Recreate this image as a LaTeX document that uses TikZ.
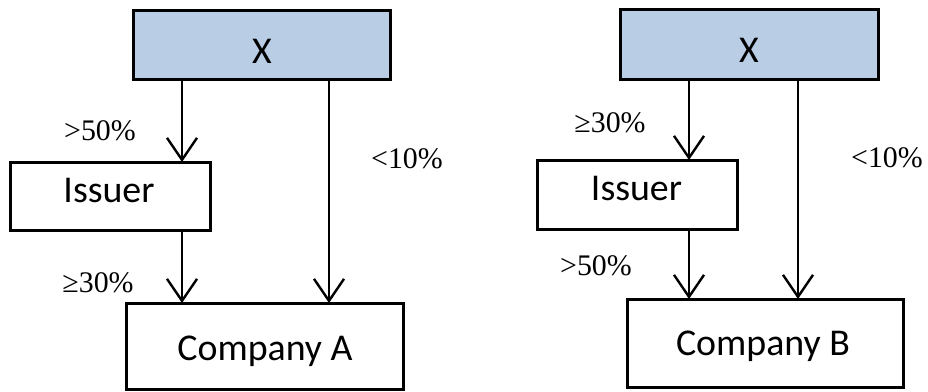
\documentclass[tikz,border=0pt]{standalone}
\usepackage{fontspec}
\setmainfont{Liberation Serif}
\newfontfamily\boxfont{Carlito}
\usetikzlibrary{arrows.meta}
\definecolor{ownerblue}{RGB}{185,205,229}
\tikzset{
  entity/.style={draw=black, line width=3bp, inner sep=0pt, outer sep=0pt},
  owner/.style={entity, fill=ownerblue},
  boxtext/.style={anchor=base, inner sep=0pt, font=\boxfont\fontsize{38}{40}\selectfont},
  pct/.style={anchor=base, inner sep=0pt, font=\fontsize{30}{32}\selectfont},
  holding/.style={line width=2.4bp, -{Straight Barb[length=22bp, width=30bp, line width=2.4bp]}}
}
\begin{document}
\begin{tikzpicture}[x=1bp, y=-1bp]
\useasboundingbox (0,0) rectangle (928,391);

% ---- structure A ----
\node[owner, minimum width=257bp, minimum height=69bp] (XA) at (261.5,44.5) {};
\node[entity, minimum width=199bp, minimum height=68bp] (IssA) at (110.5,196) {};
\node[entity, minimum width=276bp, minimum height=86bp] (CoA) at (265,346) {};
\node[boxtext] (XAt) at (262,63) {X};
\node[boxtext] (IssAt) at (109,202) {Issuer};
\node[boxtext] (CoAt) at (265,360) {Company A};

\coordinate (colA1) at (182,0);
\coordinate (colA2) at (329,0);
\draw[holding] (XA.south -| colA1) -- (IssA.north -| colA1);
\draw[holding] (IssA.south -| colA1) -- (CoA.north -| colA1);
\draw[holding] (XA.south -| colA2) -- (CoA.north -| colA2);

\node[pct] (pA1) at (100,140) {>50\%};
\node[pct] (pA2) at (407,168) {<10\%};
\node[pct] (pA3) at (98,292) {≥30\%};

% ---- structure B ----
\node[owner, minimum width=258bp, minimum height=70bp] (XB) at (749,44) {};
\node[entity, minimum width=200bp, minimum height=69bp] (IssB) at (637,194.5) {};
\node[entity, minimum width=276bp, minimum height=88bp] (CoB) at (765,343) {};
\node[boxtext] (XBt) at (749,62) {X};
\node[boxtext] (IssBt) at (636.5,200) {Issuer};
\node[boxtext] (CoBt) at (763,355) {Company B};

\coordinate (colB1) at (689,0);
\coordinate (colB2) at (798,0);
\draw[holding] (XB.south -| colB1) -- (IssB.north -| colB1);
\draw[holding] (IssB.south -| colB1) -- (CoB.north -| colB1);
\draw[holding] (XB.south -| colB2) -- (CoB.north -| colB2);

\node[pct] (pB1) at (610,132) {≥30\%};
\node[pct] (pB2) at (887,167) {<10\%};
\node[pct] (pB3) at (596,275) {>50\%};
\end{tikzpicture}
\end{document}
